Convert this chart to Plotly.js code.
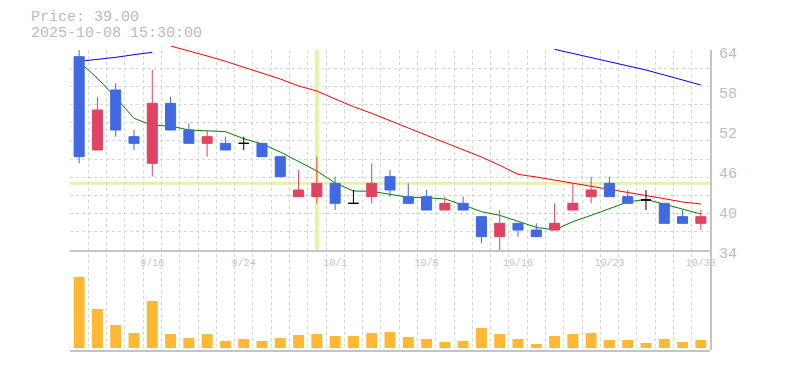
<!DOCTYPE html>
<html><head><meta charset="utf-8">
<script src="https://cdn.plot.ly/plotly-3.0.1.min.js"></script>
<style>html,body{margin:0;padding:0;background:#fff;}#chart{width:785px;height:370px;}</style>
</head><body><div id="chart"></div>
<script>
// ---- data ----
const dates = ['9/10','9/11','9/12','9/15','9/16','9/17','9/18','9/19','9/22','9/24',
  '9/25','9/26','9/29','9/30','10/1','10/2','10/3','10/6','10/7','10/8',
  '10/9','10/10','10/14','10/15','10/16','10/17','10/20','10/21','10/22','10/23',
  '10/24','10/27','10/28','10/29','10/30'];
const openP  = [63,49,58,51,47,56,52,50,50,50, 50,48,42,42,44,41,42,45,42,42, 40,41,39,36,38,37,37,40,42,44, 42,41.5,41,39,38];
const highP  = [64,57,59,52,61,57,53,52,51,51, 50,48,46,48,45,43,47,46,44,43, 42,42,39,40,38,38,41,44,45,45, 43,43,41,40,40];
const lowP   = [47,49,51,49,45,52,50,48,49,49, 48,45,42,41,40,41,41,42,41,40, 40,40,35,34,36,36,37,40,41,42, 41,40,38,38,37];
const closeP = [48,55,52,50,56,52,50,51,49,50, 48,45,43,44,41,41,44,43,41,40, 41,40,36,38,37,36,38,41,43,42, 41,41.5,38,38,39];
const volume = [71,39,23,15,47,14,10,14,7,9, 7,10,13,14,12,12,15,16,11,9, 6,7,20,14,9,4,12,14,15,8, 8,5,9,6,8];
const ma5  = [62.25,59.75,56.9,53.75,52.7,52.6,52.0,51.85,51.75,50.7, 49.9,48.7,47.3,45.85,44.05,42.85,42.8,42.4,41.9,41.85,
  41.65,40.75,39.75,39.2,38.35,37.4,37.0,38.25,39.2,40.2, 41.2,41.6,40.85,40.2,39.4];
const ma25 = [null,null,null,null,null,64.6,63.9,63.1,62.3,61.4, 60.45,59.65,58.6,57.85,56.65,55.5,54.5,53.35,52.3,51.2,
  50.1,49.0,47.95,46.7,45.35,44.95,44.5,44.05,43.6,43.1, 42.6,42.2,41.7,41.2,40.9];
const ma75 = [62.3,62.55,62.9,63.3,63.65,null,null,null,null,null, null,null,null,null,null,null,null,null,null,null,
  null,null,null,null,null,null,64.1,63.5,62.85,62.3, 61.7,61.0,60.25,59.5,58.75];
const tickDates = ['9/16','9/24','10/1','10/8','10/16','10/23','10/30'];
const priceTicks = [34,40,46,52,58,64];
const infoLines = ['Price: 39.00', '2025-10-08 15:30:00'];
const crossDate = '9/30';
const crossPrice = 44;

// ---- styles ----
const RED = '#e04462', BLUE = '#4169e1', GRID = '#d6d6d6', AXIS = '#c4c4c4';
const CROSS = '#e4f3a8', VOL = '#ffb833', MONO = 'Liberation Mono, Courier New, monospace';

const idx = dates.map((d, i) => i);
const doji = idx.map(i => openP[i] === closeP[i]);
const sel = (arr, keep) => arr.map((v, i) => keep(i) ? v : null);
const halfSteps = Array.from({length: dates.length + 1}, (_, k) => k - 0.5);
const hGrid = Array.from({length: 12}, (_, k) => 5.5 + k);

const traces = [
  {type:'scatter', x:[], y:[], xaxis:'x', yaxis:'y', hoverinfo:'skip', showlegend:false},
  {type:'scatter', mode:'lines', x:idx, y:ma75, xaxis:'x2', yaxis:'y2', line:{color:'#0000ff', width:1}, hoverinfo:'skip'},
  {type:'scatter', mode:'lines', x:idx, y:ma25, xaxis:'x2', yaxis:'y2', line:{color:'#ff0000', width:1}, hoverinfo:'skip'},
  {type:'scatter', mode:'lines', x:idx, y:ma5, xaxis:'x2', yaxis:'y2', line:{color:'#008000', width:1}, hoverinfo:'skip'},
  {type:'candlestick', x:idx, xaxis:'x2', yaxis:'y3',
   open:sel(openP, i => !doji[i]), high:sel(highP, i => !doji[i]), low:sel(lowP, i => !doji[i]), close:sel(closeP, i => !doji[i]),
   increasing:{line:{color:RED, width:1}, fillcolor:RED}, decreasing:{line:{color:BLUE, width:1}, fillcolor:BLUE},
   whiskerwidth:0, hoverinfo:'skip'},
  {type:'candlestick', x:idx, xaxis:'x2', yaxis:'y3',
   open:sel(openP, i => doji[i]), high:sel(highP, i => doji[i]), low:sel(lowP, i => doji[i]), close:sel(closeP, i => doji[i]),
   increasing:{line:{color:'#000000', width:1}, fillcolor:'#000000'}, decreasing:{line:{color:'#000000', width:1}, fillcolor:'#000000'},
   whiskerwidth:0, hoverinfo:'skip'},
  {type:'bar', x:idx, y:volume, xaxis:'x3', yaxis:'y4', marker:{color:VOL, line:{width:0}}, hoverinfo:'skip'}
];

const H = 304;
const xr = [-0.5, dates.length - 0.5];
const layout = {
  width:785, height:370,
  margin:{l:70, r:75, t:46, b:20},
  paper_bgcolor:'#ffffff', plot_bgcolor:'rgba(0,0,0,0)',
  showlegend:false, hovermode:false, dragmode:false,
  boxmode:'overlay', boxgap:0.45, boxgroupgap:0, bargap:0.4,
  font:{family:MONO, color:'#bbbbbb'},
  xaxis:{domain:[0,1], range:xr, anchor:'y', tickmode:'array', tickvals:halfSteps, showticklabels:false, ticks:'',
    showgrid:true, gridcolor:GRID, griddash:'3px,3px', gridwidth:1, zeroline:false, showline:false},
  yaxis:{domain:[0, 300/H], range:[0, 16.5], anchor:'x', side:'right', tickmode:'array', tickvals:hGrid, showticklabels:false, ticks:'',
    showgrid:true, gridcolor:GRID, griddash:'3px,3px', gridwidth:1, zeroline:false, showline:true, linecolor:AXIS, linewidth:2},
  xaxis2:{domain:[0,1], range:xr, anchor:'y2', tickmode:'array', tickvals:tickDates.map(d => dates.indexOf(d)), ticktext:tickDates,
    showgrid:false, zeroline:false, showline:true, linecolor:AXIS, linewidth:2, ticks:'', rangeslider:{visible:false},
    tickfont:{family:MONO, size:10, color:'#c4c4c4'}, ticklabelstandoff:2},
  yaxis2:{domain:[100/H, 1], range:[34, 64.6], anchor:'x2', side:'right', tickmode:'array', tickvals:priceTicks,
    showgrid:false, zeroline:false, showline:false, ticks:'',
    tickfont:{family:MONO, size:15, color:'#bdbdbd'}, ticklabelstandoff:8, ticklabelshift:3},
  yaxis3:{overlaying:'y2', range:[34, 64.6], anchor:'x2', side:'right', showticklabels:false, showgrid:false, zeroline:false, showline:false, ticks:''},
  xaxis3:{domain:[0,1], range:xr, anchor:'y4', showticklabels:false, ticks:'', showgrid:false, zeroline:false, showline:true, linecolor:AXIS, linewidth:2},
  yaxis4:{domain:[0, 85/H], range:[-2, 83], anchor:'x3', showticklabels:false, ticks:'', showgrid:false, zeroline:false, showline:false},
  shapes:[
    {type:'line', layer:'below', xref:'x2', yref:'y2', x0:dates.indexOf(crossDate), x1:dates.indexOf(crossDate),
     y0:priceTicks[0], y1:priceTicks[priceTicks.length-1], line:{color:CROSS, width:4}},
    {type:'line', layer:'below', xref:'x2 domain', yref:'y2', x0:0, x1:1, y0:crossPrice, y1:crossPrice, line:{color:CROSS, width:3}}
  ],
  annotations: infoLines.map((t, k) => ({
    text:t, xref:'paper', yref:'paper', x:(29-70)/640, y:(350-(17.3+16*k))/H,
    xanchor:'left', yanchor:'middle', showarrow:false, font:{family:MONO, size:15, color:'#bbbbbb'}
  }))
};

Plotly.newPlot('chart', traces, layout, {staticPlot:true, displayModeBar:false});
</script>
</body></html>
